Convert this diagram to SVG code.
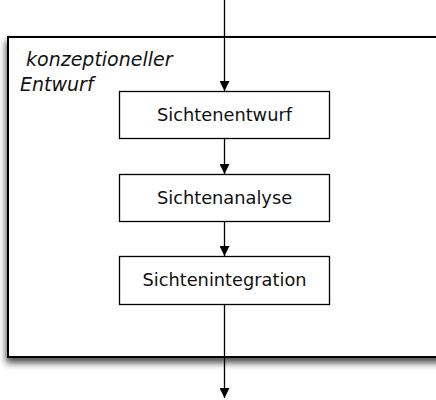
<svg xmlns="http://www.w3.org/2000/svg" width="436" height="400" viewBox="0 0 436 400">
  <style>
    .frame { fill: #ffffff; stroke: #000000; stroke-width: 2; }
    .box { fill: #ffffff; stroke: #000000; stroke-width: 1.3; }
    .label { font-family: "DejaVu Sans", "Noto Sans", sans-serif; font-size: 17.8px; fill: #111111; text-anchor: middle; }
    .title { font-family: "DejaVu Sans", "Noto Sans", sans-serif; font-size: 19px; font-style: italic; fill: #111111; }
    .edge { stroke: #000000; stroke-width: 1.3; fill: none; }
  </style>
  <defs>
    <marker id="arrow" viewBox="0 0 10 10" refX="10" refY="5" markerWidth="10" markerHeight="10" markerUnits="userSpaceOnUse" orient="auto">
      <path d="M0,0 L10,5 L0,10 Z" fill="#000000"/>
    </marker>
    <filter id="shadow" x="-10%" y="-10%" width="130%" height="130%">
      <feDropShadow dx="-1" dy="5" stdDeviation="3.5" flood-color="#000000" flood-opacity="0.7"/>
    </filter>
  </defs>

  <!-- phase frame -->
  <g id="phase">
    <rect class="frame" x="8" y="37" width="440" height="320" filter="url(#shadow)"/>
    <text class="title" x="26" y="66">konzeptioneller</text>
    <text class="title" x="20" y="91">Entwurf</text>
  </g>

  <g id="sichtenentwurf">
    <rect class="box" x="119.5" y="91.5" width="210" height="47"/>
    <text class="label" x="224.5" y="121">Sichtenentwurf</text>
  </g>
  <g id="sichtenanalyse">
    <rect class="box" x="119.5" y="174.5" width="210" height="47"/>
    <text class="label" x="224.5" y="204">Sichtenanalyse</text>
  </g>
  <g id="sichtenintegration">
    <rect class="box" x="119.5" y="256.5" width="210" height="48"/>
    <text class="label" x="224.5" y="286">Sichtenintegration</text>
  </g>

  <g id="connectors">
    <line class="edge" x1="224.5" y1="0" x2="224.5" y2="91" marker-end="url(#arrow)"/>
    <line class="edge" x1="224.5" y1="139" x2="224.5" y2="174" marker-end="url(#arrow)"/>
    <line class="edge" x1="224.5" y1="222" x2="224.5" y2="256" marker-end="url(#arrow)"/>
    <line class="edge" x1="224.5" y1="305" x2="224.5" y2="398" marker-end="url(#arrow)"/>
  </g>
</svg>
